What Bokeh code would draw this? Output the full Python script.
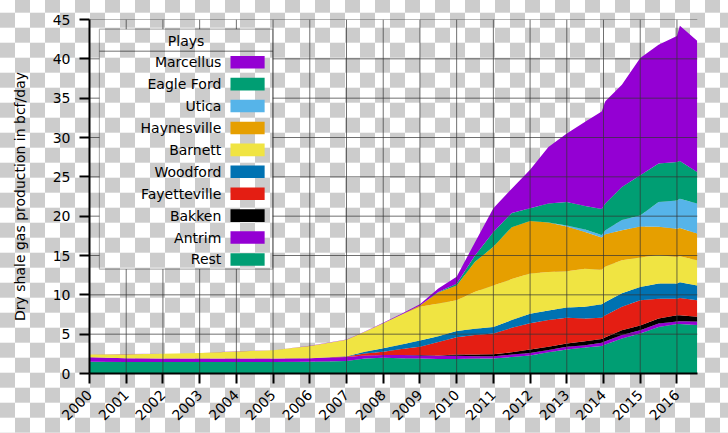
import math
from bokeh.plotting import figure
from bokeh.models import ColumnDataSource, Range1d, FixedTicker, BoxAnnotation, Label, InlineStyleSheet
from bokeh.embed import file_html
from bokeh.resources import INLINE

# ---- data (bcf/day) ----
years = [2000, 2001, 2002, 2003, 2004, 2005, 2006, 2007, 2007.5, 2008, 2008.5,
         2009, 2009.5, 2010, 2010.5, 2011, 2011.5, 2012, 2012.5, 2013, 2013.5,
         2013.95, 2014.05, 2014.5, 2015, 2015.5, 2016, 2016.08, 2016.55]

rest = [1.50, 1.45, 1.45, 1.45, 1.45, 1.45, 1.50, 1.60, 1.90, 2.00, 1.95,
        1.90, 1.85, 1.85, 1.90, 1.90, 2.10, 2.30, 2.70, 3.05, 3.30,
        3.50, 3.70, 4.45, 5.10, 5.90, 6.30, 6.30, 6.15]
antrim = [0.55, 0.50, 0.45, 0.45, 0.45, 0.45, 0.45, 0.50, 0.40, 0.35, 0.40,
          0.40, 0.40, 0.40, 0.30, 0.30, 0.30, 0.30, 0.30, 0.35, 0.30,
          0.40, 0.40, 0.45, 0.40, 0.45, 0.30, 0.35, 0.45]
bakken = [0, 0, 0, 0, 0, 0, 0, 0, 0, 0, 0,
          0.05, 0.05, 0.15, 0.20, 0.25, 0.30, 0.45, 0.40, 0.40, 0.50,
          0.50, 0.50, 0.60, 0.60, 0.65, 0.80, 0.75, 0.60]
fayetteville = [0, 0, 0, 0, 0, 0, 0, 0.05, 0.25, 0.40, 0.75,
                1.05, 1.70, 2.20, 2.50, 2.65, 3.10, 3.35, 3.40, 3.30, 2.90,
                2.70, 2.80, 3.00, 3.20, 2.50, 2.10, 2.20, 2.10]
woodford = [0, 0, 0, 0, 0, 0, 0, 0.05, 0.20, 0.45, 0.60,
            0.80, 0.75, 0.80, 0.80, 0.80, 1.00, 1.20, 1.20, 1.30, 1.50,
            1.70, 1.70, 1.70, 1.70, 1.95, 1.95, 2.00, 1.90]
barnett = [0.35, 0.50, 0.60, 0.70, 0.90, 1.05, 1.55, 2.10, 2.55, 3.20, 3.80,
           4.30, 4.15, 3.90, 4.70, 5.30, 5.20, 5.10, 4.90, 4.60, 4.80,
           4.40, 4.50, 4.20, 3.75, 3.60, 3.35, 3.30, 3.20]
haynesville = [0, 0, 0, 0, 0, 0, 0, 0, 0, 0, 0,
               0.15, 1.40, 1.90, 3.80, 4.90, 6.60, 6.70, 6.30, 5.70, 4.70,
               4.10, 4.10, 3.80, 3.95, 3.60, 3.60, 3.60, 3.40]
utica = [0, 0, 0, 0, 0, 0, 0, 0, 0, 0, 0,
         0, 0, 0, 0, 0, 0, 0, 0, 0.10, 0.30,
         0.30, 0.50, 1.30, 1.40, 3.15, 3.60, 3.70, 3.80]
eagle_ford = [0, 0, 0, 0, 0, 0, 0, 0, 0, 0, 0,
              0, 0.05, 0.20, 0.80, 1.90, 1.80, 1.60, 2.40, 3.00, 3.00,
              3.30, 3.40, 4.20, 5.10, 4.90, 4.90, 4.80, 4.00]
marcellus = [0.02, 0.02, 0.02, 0.02, 0.02, 0.02, 0.02, 0.03, 0.05, 0.05, 0.10,
             0.15, 0.45, 0.90, 1.70, 3.00, 3.10, 4.90, 7.20, 8.70, 10.70,
             12.40, 13.00, 13.00, 14.90, 15.10, 16.00, 17.20, 16.70]

# bottom-to-top stacking order
play_keys = ["Rest", "Antrim", "Bakken", "Fayetteville", "Woodford",
             "Barnett", "Haynesville", "Utica", "EagleFord", "Marcellus"]
play_names = ["Rest", "Antrim", "Bakken", "Fayetteville", "Woodford",
              "Barnett", "Haynesville", "Utica", "Eagle Ford", "Marcellus"]
play_colors = ["#009E73", "#9400D3", "#000000", "#E41E13", "#0072B2",
               "#F0E442", "#E69F00", "#56B4E9", "#009E73", "#9400D3"]
series = [rest, antrim, bakken, fayetteville, woodford,
          barnett, haynesville, utica, eagle_ford, marcellus]

year_ticks = list(range(2000, 2017))
value_ticks = list(range(0, 46, 5))

FONT = "DejaVu Sans"
X0, X1, Y0, Y1 = 2000, 2016.56, 0, 45

data = {"year": years}
for k, s in zip(play_keys, series):
    data[k] = s
src = ColumnDataSource(data)

p = figure(width=728, height=433, x_range=Range1d(X0, X1),
           y_range=Range1d(Y0, Y1), output_backend="svg", toolbar_location=None,
           min_border_left=89, min_border_right=31, min_border_top=19,
           min_border_bottom=60)
p.outline_line_color = None
p.background_fill_alpha = 0
p.border_fill_alpha = 0
# transparent-image checkerboard behind the chart
p.stylesheets = [InlineStyleSheet(css=(
    ":host { background-color: #ffffff; "
    "background-image: repeating-conic-gradient(#cccccc 0% 25%, #ffffff 0% 50%); "
    "background-size: 30px 30px; background-position: 0px -2.3px; }"))]

p.varea_stack(stackers=play_keys, x="year", color=play_colors, source=src)

# legend frame (data-space placement, upper left)
lg_left, lg_right, lg_top, lg_bottom = 2000.27, 2004.99, 43.77, 13.27

# grid lines drawn over the areas but kept out of the legend box
p.grid.visible = False
gx0, gy0, gx1, gy1 = [], [], [], []
for t in year_ticks:
    if lg_left < t < lg_right:
        gx0 += [t, t]; gx1 += [t, t]; gy0 += [Y0, lg_top]; gy1 += [lg_bottom, Y1]
    else:
        gx0.append(t); gx1.append(t); gy0.append(Y0); gy1.append(Y1)
for v in value_ticks:
    if lg_bottom < v < lg_top:
        gx0 += [X0, lg_right]; gx1 += [lg_left, X1]; gy0 += [v, v]; gy1 += [v, v]
    else:
        gx0.append(X0); gx1.append(X1); gy0.append(v); gy1.append(v)
p.segment(x0=gx0, y0=gy0, x1=gx1, y1=gy1, line_color="#333333",
          line_alpha=0.7, line_width=1)

# axes
p.xaxis.ticker = FixedTicker(ticks=year_ticks)
p.yaxis.ticker = FixedTicker(ticks=value_ticks)
p.xaxis.major_label_orientation = math.pi / 4
p.yaxis.axis_label = "Dry shale gas production in bcf/day"
for ax in (p.xaxis, p.yaxis):
    ax.axis_line_width = 2
    ax.axis_line_color = "black"
    ax.major_tick_line_width = 2
    ax.major_tick_line_color = "black"
    ax.major_tick_out = 10
    ax.major_tick_in = 0
    ax.minor_tick_line_color = None
    ax.major_label_text_font = FONT
    ax.major_label_text_font_size = "14px"
    ax.major_label_text_color = "black"
    ax.axis_label_text_font = FONT
    ax.axis_label_text_font_size = "14px"
    ax.axis_label_text_font_style = "normal"
    ax.axis_label_text_color = "black"
p.yaxis.major_label_standoff = 9
p.xaxis.major_label_standoff = 9
p.yaxis.axis_label_standoff = 22

# ---- legend (labels left, swatches right) ----
p.add_layout(BoxAnnotation(left=lg_left, right=lg_right, top=lg_top, bottom=lg_bottom,
                           fill_alpha=0,
                           line_color="black", line_width=1.2, level="annotation"))
p.add_layout(BoxAnnotation(left=lg_left, right=lg_right, top=40.97, bottom=40.97,
                           fill_alpha=0, line_color="black", line_width=1,
                           level="annotation"))
p.add_layout(Label(x=(lg_left + lg_right) / 2, y=42.28, text="Plays",
                   text_align="center", text_baseline="middle",
                   text_font=FONT, text_font_size="14px", text_color="black"))

legend_order = list(range(len(play_keys)))[::-1]  # Marcellus first
row_y0, row_step = 39.57, 2.786
for i, idx in enumerate(legend_order):
    yc = row_y0 - i * row_step
    p.add_layout(Label(x=2003.59, y=yc, text=play_names[idx],
                       text_align="right", text_baseline="middle",
                       text_font=FONT, text_font_size="14px", text_color="black"))
    p.add_layout(BoxAnnotation(left=2003.84, right=2004.77, top=yc + 0.8, bottom=yc - 0.8,
                               fill_color=play_colors[idx], fill_alpha=1.0,
                               line_color=None, level="annotation"))

open("out.html", "w").write(file_html(p, INLINE))
